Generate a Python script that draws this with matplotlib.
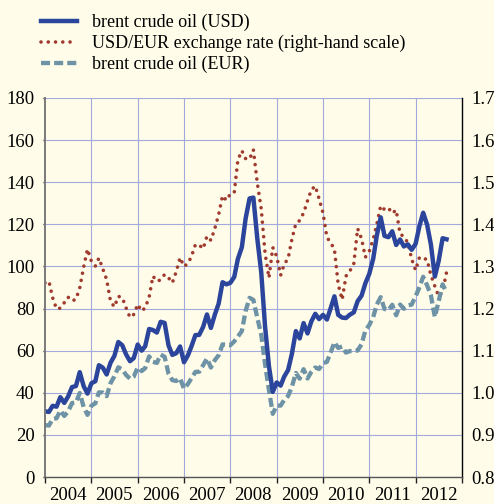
import numpy as np
import pandas as pd
import matplotlib
matplotlib.use("Agg")
import matplotlib.pyplot as plt
import matplotlib.dates as mdates

# monthly values, Jan 2004 - Sep 2012
oil_usd = [
    31.2, 30.9, 33.8, 33.4, 37.9, 35.2, 38.2, 42.7, 43.2, 49.8, 43.1, 39.6,
    44.5, 45.5, 53.1, 51.9, 48.7, 54.3, 57.5, 64.1, 62.6, 58.3, 55.0, 56.5,
    62.9, 60.0, 62.1, 70.3, 69.8, 68.6, 73.7, 73.2, 62.5, 58.0, 58.8, 62.0,
    54.5, 57.8, 62.1, 67.4, 67.5, 71.3, 77.2, 70.8, 77.1, 82.3, 92.5, 91.5,
    92.2, 95.0, 103.6, 109.1, 122.8, 132.3, 132.7, 113.2, 97.2, 71.6, 52.5, 40.4,
    44.9, 43.4, 47.7, 50.8, 58.6, 69.3, 65.8, 73.1, 68.2, 73.9, 77.5, 75.0,
    77.0, 74.8, 79.9, 85.8, 77.0, 75.7, 75.5, 77.1, 78.2, 83.5, 86.1, 92.0,
    96.5, 103.7, 114.6, 123.3, 114.5, 113.9, 116.7, 110.2, 112.8, 109.5, 110.5, 107.9,
    110.7, 119.3, 125.5, 119.8, 110.3, 95.2, 102.6, 113.4, 112.9,
]
usd_eur = [
    1.261, 1.265, 1.226, 1.199, 1.201, 1.214, 1.227, 1.218, 1.222, 1.249, 1.299, 1.341,
    1.312, 1.301, 1.320, 1.294, 1.269, 1.217, 1.204, 1.229, 1.226, 1.202, 1.179, 1.186,
    1.210, 1.194, 1.202, 1.227, 1.277, 1.265, 1.268, 1.281, 1.273, 1.261, 1.288, 1.321,
    1.300, 1.307, 1.324, 1.352, 1.351, 1.342, 1.372, 1.362, 1.390, 1.423, 1.468, 1.457,
    1.472, 1.475, 1.553, 1.575, 1.556, 1.555, 1.577, 1.498, 1.437, 1.332, 1.273, 1.345,
    1.324, 1.279, 1.305, 1.319, 1.365, 1.402, 1.409, 1.427, 1.456, 1.482, 1.491, 1.461,
    1.427, 1.369, 1.357, 1.341, 1.257, 1.221, 1.277, 1.289, 1.307, 1.390, 1.366, 1.322,
    1.336, 1.365, 1.400, 1.444, 1.435, 1.439, 1.426, 1.434, 1.377, 1.371, 1.356, 1.318,
    1.291, 1.322, 1.320, 1.316, 1.279, 1.253, 1.229, 1.240, 1.286,
]
oil_eur = [
    24.7, 24.4, 27.6, 27.9, 31.6, 29.0, 31.1, 35.1, 35.4, 39.9, 33.2, 29.5,
    33.9, 35.0, 40.2, 40.1, 38.4, 44.6, 47.8, 52.1, 51.1, 48.5, 46.7, 47.7,
    52.0, 50.3, 51.7, 57.3, 54.7, 54.2, 58.1, 57.1, 49.1, 46.0, 45.6, 46.9,
    41.9, 44.2, 46.9, 49.9, 50.0, 53.1, 56.3, 52.0, 55.5, 57.8, 63.0, 62.8,
    62.6, 64.4, 66.7, 69.3, 78.9, 85.1, 84.1, 75.6, 67.6, 53.7, 41.2, 30.0,
    33.9, 33.9, 36.6, 38.5, 42.9, 49.4, 46.7, 51.2, 46.8, 49.9, 52.0, 51.3,
    54.0, 54.7, 58.9, 64.0, 61.3, 62.0, 59.1, 59.8, 59.8, 60.1, 63.0, 69.6,
    72.2, 76.0, 81.9, 85.4, 79.8, 79.2, 81.8, 76.8, 81.9, 79.9, 81.5, 81.9,
    85.8, 90.2, 95.1, 91.0, 86.2, 76.0, 83.5, 91.5, 87.8,
]
years = list(range(2004, 2013))
labels = ["brent crude oil (USD)",
          "USD/EUR exchange rate (right-hand scale)",
          "brent crude oil (EUR)"]

dates = pd.date_range("2004-01-01", periods=len(oil_usd), freq="MS")

bg = "#fffde9"
grid_col = "#a3a9dd"
plt.rcParams["font.family"] = ["Liberation Serif", "DejaVu Serif"]
plt.rcParams["font.size"] = 13.5

fig = plt.figure(figsize=(4.94, 5.04), dpi=100, facecolor=bg)
ax = fig.add_axes([45 / 494, 1 - 477 / 504, 417 / 494, 379 / 504])
ax2 = ax.twinx()
# left axis drawn on top, grid + background from the right axis
ax.set_zorder(ax2.get_zorder() + 1)
ax.patch.set_visible(False)
ax2.set_facecolor(bg)

l3, = ax.plot(dates, oil_eur, color="#6f93a6", lw=3.1, ls=(0, (2.1, 0.95)),
              dash_capstyle="butt", label=labels[2])
l1, = ax.plot(dates, oil_usd, color="#2c459c", lw=3.2, label=labels[0])
l2, = ax2.plot(dates, usd_eur, color="#a03a2e", lw=2.6, ls=(0, (0.01, 2.0)),
               dash_capstyle="round", label=labels[1])

ax.set_ylim(0, 180)
ax.set_yticks(np.arange(0, 181, 20))
ax2.set_ylim(0.8, 1.7)
ax2.set_yticks(np.round(np.arange(0.8, 1.71, 0.1), 1))
ax2.set_yticklabels([f"{v:.1f}" for v in np.arange(0.8, 1.71, 0.1)])

ax.set_xlim(pd.Timestamp("2004-01-01"), pd.Timestamp("2013-01-01"))
ax.xaxis.set_major_locator(mdates.YearLocator())
ax.xaxis.set_major_formatter(plt.NullFormatter())
ax.set_xticks([pd.Timestamp(f"{y}-07-01") for y in years], minor=True)
ax.set_xticklabels([str(y) for y in years], minor=True)
ax.tick_params(axis="x", which="major", direction="out", length=4, width=1, color="#222222")
ax.tick_params(axis="x", which="minor", length=0, pad=7)
ax.tick_params(axis="y", direction="out", length=1.5, width=1, pad=6, color="#222222")
ax2.tick_params(axis="y", length=0, pad=6.5)

ax2.grid(True, axis="y", color=grid_col, lw=0.8)
for y in years[1:]:
    ax2.axvline(pd.Timestamp(f"{y}-01-01"), color=grid_col, lw=0.8, zorder=0.5)

for a in (ax, ax2):
    a.spines["top"].set_visible(False)
ax.spines["right"].set_visible(False)
ax2.spines["left"].set_visible(False)
ax2.spines["bottom"].set_visible(False)
ax.spines["left"].set_color("#7a7a7a")
ax.spines["left"].set_linewidth(1.4)
ax.spines["bottom"].set_color("#555555")
ax.spines["bottom"].set_linewidth(1.0)
ax2.spines["right"].set_color("black")
ax2.spines["right"].set_linewidth(1.0)

fig.legend(handles=[l1, l2, l3], loc="upper left",
           bbox_to_anchor=(41 / 494, 1 - 14 / 504), frameon=False,
           borderpad=0, borderaxespad=0, handlelength=2.0,
           handletextpad=0.85, labelspacing=0.2, fontsize=13)

fig.savefig("out.png", dpi=100, facecolor=bg)
